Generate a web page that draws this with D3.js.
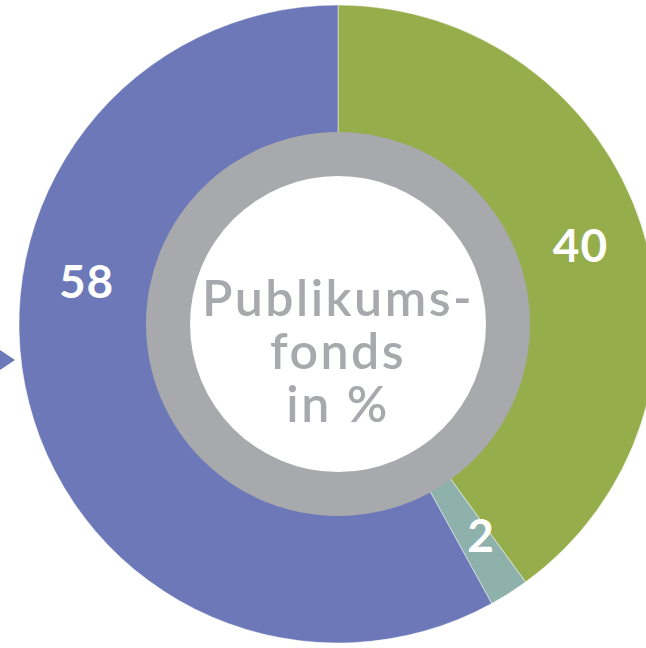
<!DOCTYPE html>
<html>
<head>
<meta charset="utf-8">
<script src="https://cdn.jsdelivr.net/npm/d3@7"></script>
<style>
  html, body { margin: 0; padding: 0; background: #fff; overflow: hidden; }
  svg { display: block; }
</style>
</head>
<body>
<svg width="646" height="648"></svg>
<script>
// Publikumsfonds in %, clockwise from 12 o'clock
const categories = ['a', 'b', 'c'];
const values = [40, 2, 58];
const labels = ['40', '2', '58'];
const colors = ['#96ad4c', '#8fb1ab', '#6c78b7'];
const titleLines = ['Publikums-', 'fonds', 'in %'];

const width = 646, height = 648;
const cx = 338, cy = 324;
const rOuter = 319, rRing = 192, rHole = 148;

const svg = d3.select('svg');
const g = svg.append('g').attr('transform', `translate(${cx},${cy})`);

const pie = d3.pie().sort(null).value(d => d.value);
const data = categories.map((c, i) => ({cat: c, value: values[i], label: labels[i], color: colors[i]}));
const arcs = pie(data);

const arc = d3.arc().innerRadius(rRing - 2).outerRadius(rOuter);

g.selectAll('path.seg')
  .data(arcs)
  .enter()
  .append('path')
  .attr('class', 'seg')
  .attr('fill', d => d.data.color)
  .attr('stroke', 'rgba(255,255,255,0.6)')
  .attr('stroke-width', 0.8)
  .attr('d', arc);

// grey ring + white hole
g.append('circle').attr('r', rRing).attr('fill', '#a7a9ac');
g.append('circle').attr('r', rHole).attr('fill', '#fff');

// value labels; the big slice's label sits higher up on the left
const labelR = 255;
const labelShift = {b: -0.03, c: 0.42}; // radians away from the centroid angle
g.selectAll('text.val')
  .data(arcs)
  .enter()
  .append('text')
  .attr('class', 'val')
  .attr('transform', d => {
    let a = (d.startAngle + d.endAngle) / 2 + (labelShift[d.data.cat] || 0);
    return `translate(${Math.sin(a) * labelR},${-Math.cos(a) * labelR})`;
  })
  .attr('text-anchor', 'middle')
  .attr('dy', '0.36em')
  .attr('fill', '#fff')
  .attr('font-family', 'Lato, sans-serif')
  .attr('font-weight', 700)
  .attr('font-size', 46)
  .attr('letter-spacing', 1)
  .text(d => d.data.label);

// centre title
g.selectAll('text.title')
  .data(titleLines)
  .enter()
  .append('text')
  .attr('class', 'title')
  .attr('x', 0)
  .attr('y', (d, i) => -8 + i * 53)
  .attr('text-anchor', 'middle')
  .attr('fill', '#a7a9ac')
  .attr('font-family', 'Lato, sans-serif')
  .attr('font-weight', 600)
  .attr('font-size', 50)
  .attr('letter-spacing', 2.5)
  .text(d => d);

// little pointer on the left edge
const tri = d3.line()([[0, 350], [15, 360], [0, 370]]);
svg.append('path').attr('d', tri + 'Z').attr('fill', colors[2]);
</script>
</body>
</html>
